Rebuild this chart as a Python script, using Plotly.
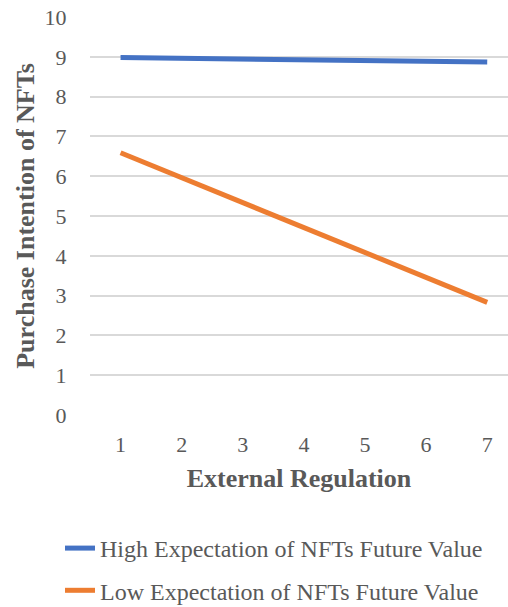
import plotly.graph_objects as go

x_values = [1, 7]
high_expectation = [8.98, 8.87]
low_expectation = [6.59, 2.83]
x_ticks = [1, 2, 3, 4, 5, 6, 7]
y_ticks = [0, 1, 2, 3, 4, 5, 6, 7, 8, 9, 10]

FONT = "Liberation Serif"
TXT = "#595959"

PLOT_L, PLOT_T, PLOT_B = 90, 17, 415
PLOT_W = 508 - PLOT_L
PLOT_H = PLOT_B - PLOT_T

fig = go.Figure()
fig.add_trace(go.Scatter(x=x_values, y=high_expectation, mode="lines",
                         name="High Expectation of NFTs Future Value",
                         legendgroup="high",
                         line=dict(color="#4472C4", width=5)))
fig.add_trace(go.Scatter(x=x_values, y=low_expectation, mode="lines",
                         name="Low Expectation of NFTs Future Value",
                         legendgroup="low",
                         line=dict(color="#ED7D31", width=5)))

fig.update_layout(
    width=508, height=607,
    margin=dict(l=PLOT_L, r=0, t=PLOT_T, b=607 - PLOT_B, autoexpand=False),
    paper_bgcolor="white", plot_bgcolor="white",
    font=dict(family=FONT, color=TXT, size=22),
    showlegend=True,
    legend=dict(orientation="v",
                x=(60 - PLOT_L) / PLOT_W, xanchor="left",
                y=(PLOT_B - 526) / PLOT_H, yanchor="top",
                font=dict(family=FONT, size=24, color=TXT),
                tracegroupgap=8, itemwidth=30),
    xaxis=dict(range=[0.5, 7.34], tickmode="array", tickvals=x_ticks,
               ticktext=[str(v) for v in x_ticks],
               showgrid=False, zeroline=False, showline=False,
               ticks="outside", ticklen=10, tickcolor="rgba(0,0,0,0)",
               tickfont=dict(size=22, color=TXT, family=FONT),
               title=dict(text="<b>External Regulation</b>", standoff=12,
                          font=dict(size=26, color=TXT, family=FONT))),
    yaxis=dict(range=[0, 10], tickmode="array", tickvals=y_ticks,
               showgrid=True, gridcolor="#D9D9D9", gridwidth=1.5,
               zeroline=False, showline=False,
               ticks="outside", ticklen=18, tickcolor="rgba(0,0,0,0)",
               tickfont=dict(size=22, color=TXT, family=FONT),
               title=dict(text="<b>Purchase Intention of NFTs</b>", standoff=2,
                          font=dict(size=26, color=TXT, family=FONT))),
)
fig.update_yaxes(layer="below traces")

fig.write_html("out.html")
